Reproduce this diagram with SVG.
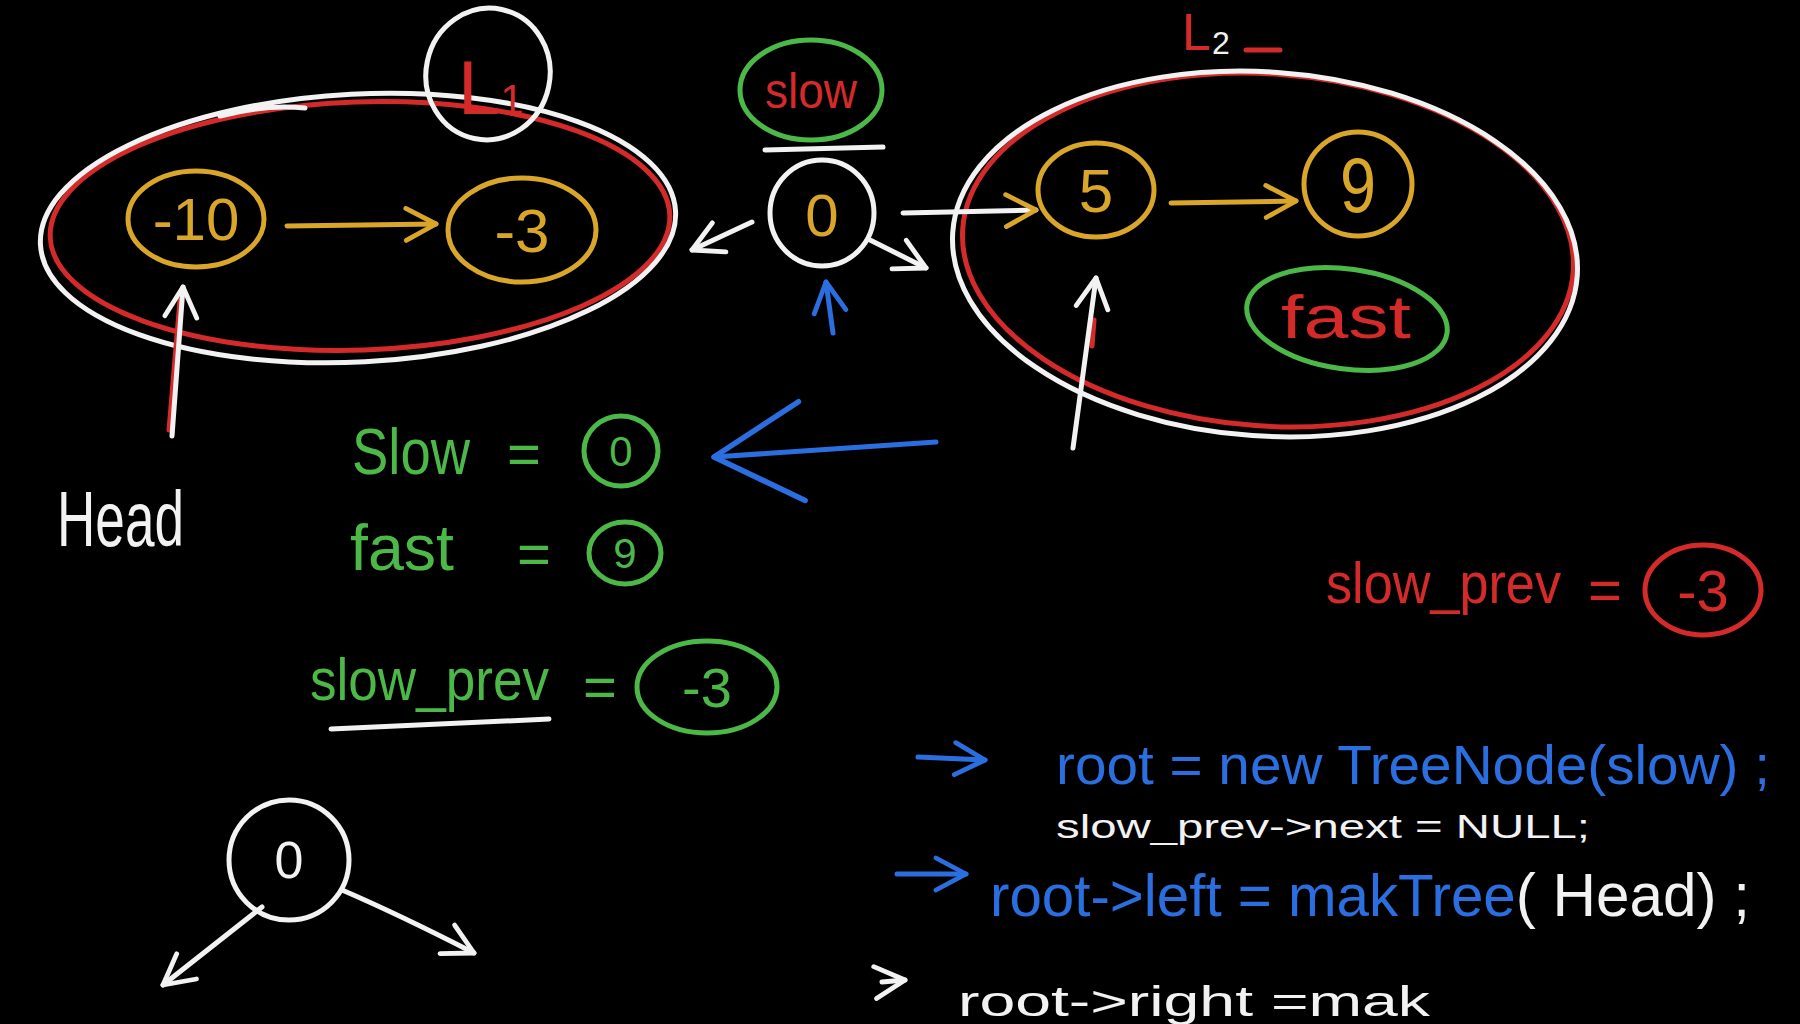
<svg xmlns="http://www.w3.org/2000/svg" width="1800" height="1024" viewBox="0 0 1800 1024">
<defs>
<style>
.bg{fill:#000}
.w{stroke:#f2f2f2}
.r{stroke:#d42a2a}
.g{stroke:#4cb848}
.y{stroke:#d9a62a}
.b{stroke:#2b6ee0}
.s{fill:none;stroke-width:5;stroke-linecap:round;stroke-linejoin:round}
.t{font-family:"Liberation Sans","Noto Sans",sans-serif}
.tw{fill:#f2f2f2}.tr{fill:#d42a2a}.tg{fill:#4cb848}.ty{fill:#d9a62a}.tb{fill:#2b6ee0}
</style>
<marker id="aw" viewBox="0 0 20 20" refX="18" refY="10" markerWidth="40" markerHeight="40" markerUnits="userSpaceOnUse" orient="auto"><path d="M3,2 L18,10 L3,18" fill="none" stroke="#f2f2f2" stroke-width="2.4" stroke-linecap="round" stroke-linejoin="round"/></marker>
<marker id="ay" viewBox="0 0 20 20" refX="18" refY="10" markerWidth="40" markerHeight="40" markerUnits="userSpaceOnUse" orient="auto"><path d="M3,2 L18,10 L3,18" fill="none" stroke="#d9a62a" stroke-width="2.4" stroke-linecap="round" stroke-linejoin="round"/></marker>
<marker id="ab" viewBox="0 0 20 20" refX="18" refY="10" markerWidth="40" markerHeight="40" markerUnits="userSpaceOnUse" orient="auto"><path d="M3,2 L18,10 L3,18" fill="none" stroke="#2b6ee0" stroke-width="2.4" stroke-linecap="round" stroke-linejoin="round"/></marker>
<marker id="abBig" viewBox="0 0 20 20" refX="18" refY="10" markerWidth="110" markerHeight="110" markerUnits="userSpaceOnUse" orient="auto"><path d="M2,1 L18,10 L2,19" fill="none" stroke="#2b6ee0" stroke-width="1" stroke-linecap="round" stroke-linejoin="round"/></marker>
</defs>
<rect class="bg" x="0" y="0" width="1800" height="1024"/>

<!-- List L1 -->
<g id="list-l1">
<ellipse class="s r" cx="360" cy="226" rx="310" ry="124" transform="rotate(-2 360 226)"/>
<ellipse class="s w" cx="358" cy="228" rx="318" ry="134" transform="rotate(-3 358 228)"/>
<path class="s w" d="M220,116 Q265,104 305,108"/>
</g>
<g id="label-l1">
<ellipse class="s w" cx="488" cy="74" rx="62" ry="66" transform="rotate(12 488 74)"/>
<text class="t tr" x="458" y="114" font-size="76">L<tspan font-size="42">1</tspan></text>
</g>
<g id="node-m10">
<ellipse class="s y" cx="196" cy="219" rx="68" ry="48"/>
<text class="t ty" x="196" y="240" font-size="60" text-anchor="middle">-10</text>
</g>
<g id="node-m3">
<ellipse class="s y" cx="522" cy="230" rx="74" ry="52"/>
<text class="t ty" x="522" y="252" font-size="62" text-anchor="middle">-3</text>
</g>
<g id="head-label">
<text class="t tw" x="57" y="546" font-size="78" textLength="127" lengthAdjust="spacingAndGlyphs">Head</text>
</g>

<!-- middle node 0 -->
<g id="label-slow">
<ellipse class="s g" cx="811" cy="90" rx="71" ry="50"/>
<text class="t tr" x="811" y="108" font-size="50" text-anchor="middle" textLength="92" lengthAdjust="spacingAndGlyphs">slow</text>
<path class="s w" d="M765,150 L883,147"/>
</g>
<g id="node-0">
<ellipse class="s w" cx="822" cy="213" rx="52" ry="53"/>
<text class="t ty" x="822" y="236" font-size="60" text-anchor="middle">0</text>
</g>

<!-- List L2 -->
<g id="list-l2">
<ellipse class="s r" cx="1268" cy="250" rx="306" ry="176" transform="rotate(4 1268 250)"/>
<ellipse class="s w" cx="1265" cy="254" rx="313" ry="182" transform="rotate(4 1265 254)"/>
</g>
<g id="label-l2">
<text class="t tr" x="1182" y="50" font-size="52">L</text>
<text class="t tw" x="1212" y="54" font-size="32">2</text>
<path class="s r" d="M1246,50 L1280,50"/>
</g>
<g id="node-5">
<ellipse class="s y" cx="1096" cy="190" rx="58" ry="47"/>
<text class="t ty" x="1096" y="212" font-size="62" text-anchor="middle">5</text>
</g>
<g id="node-9">
<ellipse class="s y" cx="1358" cy="184" rx="54" ry="52"/>
<text class="t ty" x="1358" y="212" font-size="78" text-anchor="middle" textLength="36" lengthAdjust="spacingAndGlyphs">9</text>
</g>
<g id="label-fast">
<ellipse class="s g" cx="1347" cy="319" rx="101" ry="50" transform="rotate(8 1347 319)"/>
<text class="t tr" x="1346" y="338" font-size="62" text-anchor="middle" textLength="130" lengthAdjust="spacingAndGlyphs">fast</text>
</g>

<!-- equations -->
<g id="eq-slow">
<text class="t tg" x="352" y="474" font-size="64" textLength="118" lengthAdjust="spacingAndGlyphs">Slow</text>
<text class="t tg" x="507" y="474" font-size="58">=</text>
<ellipse class="s g" cx="621" cy="451" rx="37" ry="35"/>
<text class="t tg" x="621" y="466" font-size="42" text-anchor="middle">0</text>
</g>
<g id="eq-fast">
<text class="t tg" x="350" y="570" font-size="64" textLength="104" lengthAdjust="spacingAndGlyphs">fast</text>
<text class="t tg" x="517" y="574" font-size="58">=</text>
<ellipse class="s g" cx="625" cy="553" rx="36" ry="31"/>
<text class="t tg" x="625" y="568" font-size="42" text-anchor="middle">9</text>
</g>
<g id="eq-slow-prev">
<text class="t tg" x="310" y="700" font-size="60" textLength="239" lengthAdjust="spacingAndGlyphs">slow_prev</text>
<path class="s w" d="M331,729 L549,719" stroke-width="9"/>
<text class="t tg" x="583" y="707" font-size="58">=</text>
<ellipse class="s g" cx="707" cy="687" rx="70" ry="46"/>
<text class="t tg" x="707" y="707" font-size="56" text-anchor="middle">-3</text>
</g>
<g id="eq-slow-prev-red">
<text class="t tr" x="1326" y="603" font-size="58" textLength="235" lengthAdjust="spacingAndGlyphs">slow_prev</text>
<text class="t tr" x="1588" y="610" font-size="58">=</text>
<ellipse class="s r" cx="1703" cy="590" rx="58" ry="45"/>
<text class="t tr" x="1703" y="611" font-size="58" text-anchor="middle">-3</text>
</g>

<!-- tree node -->
<g id="tree-node-0">
<ellipse class="s w" cx="289" cy="860" rx="60" ry="60"/>
<text class="t tw" x="289" y="878" font-size="52" text-anchor="middle">0</text>
</g>

<!-- code -->
<g id="code">
<text class="t tb" x="1056" y="784" font-size="56" textLength="714" lengthAdjust="spacingAndGlyphs">root = new TreeNode(slow) ;</text>
<text class="t tw" x="1056" y="838" font-size="34" textLength="534" lengthAdjust="spacingAndGlyphs">slow_prev-&gt;next = NULL;</text>
<text class="t tb" x="990" y="916" font-size="60" textLength="760" lengthAdjust="spacingAndGlyphs">root-&gt;left = makTree<tspan class="tw" font-size="62">( Head) ;</tspan></text>
<text class="t tw" x="958" y="1016" font-size="42" textLength="472" lengthAdjust="spacingAndGlyphs">root-&gt;right  =mak</text>
</g>

<!-- connectors -->
<g id="connectors">
<path class="s y" d="M287,226 L436,224" marker-end="url(#ay)"/>
<path class="s y" d="M1171,203 L1296,201" marker-end="url(#ay)"/>
<path class="s w" d="M903,213 L1036,210" marker-end="url(#ay)"/>
<path class="s w" d="M752,222 L692,250" marker-end="url(#aw)"/>
<path class="s w" d="M870,240 L926,268" marker-end="url(#aw)"/>
<path class="s b" d="M833,333 L826,282" marker-end="url(#ab)"/>
<path class="s r" d="M169,430 L180,300"/>
<path class="s w" d="M172,436 L183,287" marker-end="url(#aw)"/>
<path class="s r" d="M1094,320 L1092,346"/>
<path class="s w" d="M1073,448 L1096,278" marker-end="url(#aw)"/>
<path class="s b" d="M936,442 L714,457" stroke-width="6" marker-end="url(#abBig)"/>
<path class="s w" d="M262,907 L163,985" marker-end="url(#aw)"/>
<path class="s w" d="M342,890 Q400,915 474,953" marker-end="url(#aw)"/>
<path class="s b" d="M918,757 L985,760" marker-end="url(#ab)"/>
<path class="s b" d="M897,874 L966,874" marker-end="url(#ab)"/>
<path class="s w" d="M882,982 L905,980" stroke-width="3" marker-end="url(#aw)"/>
</g>
</svg>
